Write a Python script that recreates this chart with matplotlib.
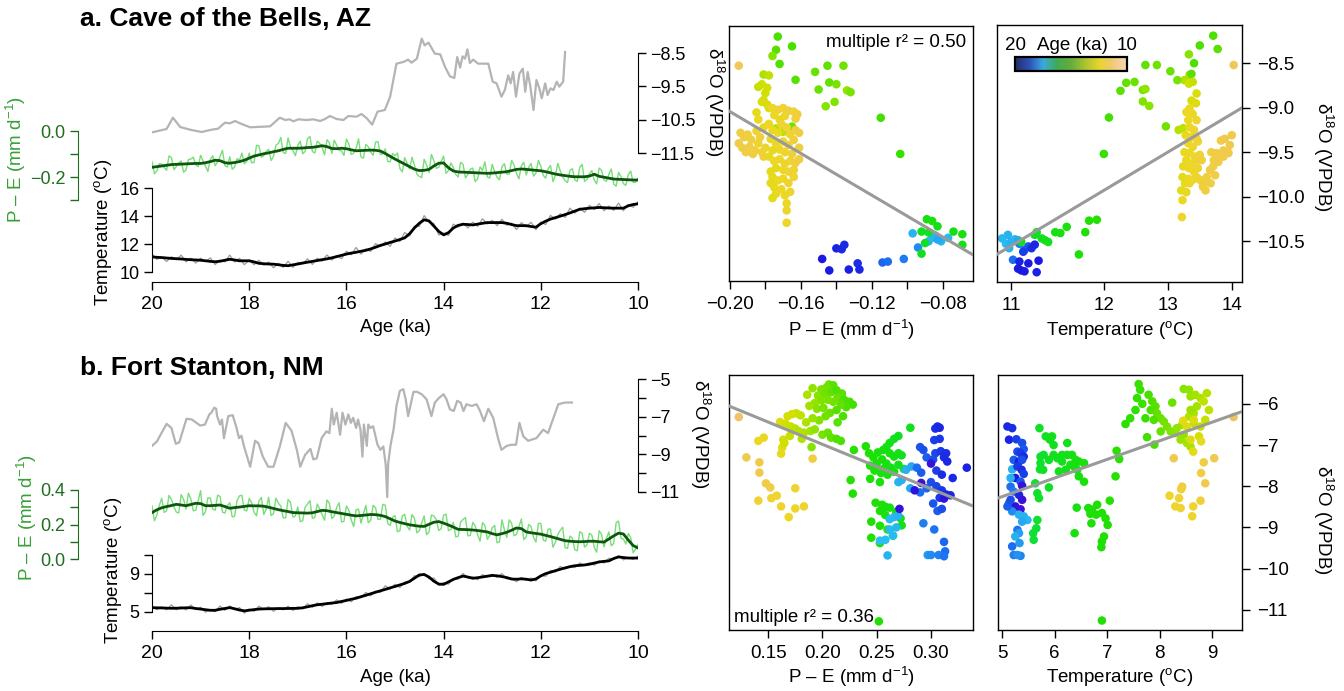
import numpy as np
import matplotlib
matplotlib.use("Agg")
import matplotlib.pyplot as plt
from matplotlib.colors import LinearSegmentedColormap, Normalize
from matplotlib.colorbar import ColorbarBase

plt.rcParams['font.family'] = ['Liberation Sans', 'DejaVu Sans']
plt.rcParams['mathtext.fontset'] = 'custom'
plt.rcParams['mathtext.rm'] = 'Liberation Sans'
plt.rcParams['mathtext.it'] = 'Liberation Sans:italic'
plt.rcParams['mathtext.bf'] = 'Liberation Sans:bold'

# ---------------------------------------------------------------- data
ages = [round(20 - 0.1 * i, 1) for i in range(101)]        # ka, 20 -> 10 (smoothed, temperature)
ages_fine = [round(20 - 0.05 * i, 2) for i in range(201)]  # ka, raw P-E samples
age_ticks = [20, 18, 16, 14, 12, 10]
age_tick_labels = ["20", "18", "16", "14", "12", "10"]

# Cave of the Bells (a) -- P-E in 0.001 mm/d
pe_smooth_a = [-158,-155,-152,-149,-146,-145,-144,-143,-142,-141,
               -141,-138,-133,-127,-129,-138,-140,-137,-133,-127,
               -118,-109,-104,-99,-95,-90,-86,-80,-75,-75,
               -75,-74,-72,-71,-68,-64,-68,-76,-77,-75,
               -77,-82,-86,-85,-84,-83,-84,-87,-98,-110,
               -122,-133,-144,-155,-166,-172,-171,-167,-152,-140,
               -139,-160,-174,-178,-179,-180,-181,-182,-183,-184,
               -183,-181,-179,-177,-172,-167,-165,-167,-169,-171,
               -173,-177,-182,-187,-191,-194,-197,-199,-199,-199,
               -196,-188,-197,-201,-205,-209,-210,-211,-212,-213,
               -213]
pe_raw_a = [-133,-186,-173,-142,-144,-158,-171,-108,-116,-168,-155,-139,-130,-179,-169,-124,-122,-114,-147,-155,
            -106,-130,-153,-176,-123,-108,-151,-134,-111,-84,-150,-157,-112,-166,-157,-120,-127,-96,-143,-132,
            -96,-138,-137,-62,-64,-114,-107,-89,-79,-128,-110,-62,-54,-28,-94,-98,-30,-69,-85,-107,
            -63,-44,-99,-89,-34,-24,-89,-96,-44,-54,-70,-104,-38,-52,-98,-40,-62,-84,-87,-106,
            -35,-56,-102,-96,-76,-34,-113,-118,-58,-68,-91,-106,-48,-46,-103,-98,-78,-132,-134,-98,
            -108,-96,-163,-178,-116,-140,-165,-114,-148,-187,-198,-202,-123,-147,-181,-102,-130,-162,-158,-132,
            -109,-184,-172,-139,-158,-188,-200,-136,-145,-204,-188,-166,-161,-220,-208,-156,-171,-134,-200,-204,
            -145,-176,-201,-212,-155,-142,-187,-188,-128,-148,-185,-208,-151,-136,-191,-158,-141,-196,-183,-128,
            -153,-193,-205,-164,-150,-220,-193,-141,-173,-200,-216,-224,-171,-164,-213,-219,-159,-145,-219,-210,
            -186,-172,-214,-230,-161,-171,-213,-219,-189,-165,-231,-240,-180,-198,-229,-236,-190,-174,-223,-223,
            -205]
t_smooth_a = [11.08,11.05,11.03,11.00,10.97,10.95,10.93,10.90,10.88,10.86,
              10.84,10.80,10.76,10.73,10.77,10.84,10.91,10.86,10.80,10.80,
              10.80,10.72,10.62,10.59,10.57,10.56,10.52,10.47,10.45,10.51,
              10.57,10.64,10.70,10.76,10.82,10.88,10.94,11.01,11.10,11.19,
              11.28,11.35,11.41,11.48,11.55,11.65,11.77,11.90,12.00,12.11,
              12.21,12.32,12.44,12.73,13.15,13.48,13.73,13.65,13.28,12.90,
              12.65,12.81,13.14,13.33,13.41,13.39,13.36,13.42,13.48,13.53,
              13.53,13.53,13.53,13.48,13.39,13.31,13.31,13.31,13.25,13.20,
              13.45,13.63,13.78,13.88,13.99,14.10,14.22,14.35,14.48,14.52,
              14.56,14.58,14.61,14.59,14.57,14.56,14.56,14.56,14.73,14.82,
              14.87]
t_raw_a = [11.28,10.90,11.08,10.75,11.09,10.87,11.21,10.72,10.98,10.64,
           10.99,10.75,11.01,10.53,10.85,10.72,11.21,10.71,10.98,10.52,
           10.86,10.52,10.84,10.49,10.71,10.30,10.61,10.33,10.77,10.33,
           10.69,10.58,10.94,10.54,10.98,10.78,11.22,10.85,11.17,10.95,
           11.48,11.23,11.75,11.28,11.65,11.47,12.03,11.82,12.15,11.83,
           12.43,12.18,12.82,12.57,13.27,13.26,14.03,13.55,13.46,12.64,
           12.79,12.61,13.42,13.21,13.49,13.15,13.56,13.26,13.80,13.43,
           13.69,13.31,13.77,13.34,13.49,13.03,13.53,13.23,13.55,13.02,
           13.57,13.39,14.04,13.78,14.17,13.90,14.56,14.21,14.56,14.26,
           14.76,14.46,14.89,14.37,14.71,14.40,14.92,14.38,14.83,14.62,
           15.02]
d18o_series_a = [(20.0,-10.88),(19.70,-10.78),(19.57,-10.44),(19.42,-10.72),(19.22,-10.80),
    (18.98,-10.87),(18.77,-10.80),(18.64,-10.77),(18.50,-10.59),(18.40,-10.61),(18.29,-10.54),
    (18.19,-10.61),(17.98,-10.73),(17.57,-10.70),(17.37,-10.44),(17.26,-10.51),(17.17,-10.49),
    (17.09,-10.55),(16.99,-10.49),(16.82,-10.51),(16.68,-10.49),(16.54,-10.54),(16.44,-10.48),
    (16.34,-10.39),(16.20,-10.48),(16.06,-10.51),(15.96,-10.39),(15.79,-10.41),(15.69,-10.33),
    (15.58,-10.46),(15.47,-10.65),(15.36,-10.26),(15.21,-10.21),(15.10,-9.81),(14.97,-8.82),
    (14.83,-8.77),(14.73,-8.70),(14.66,-8.79),(14.55,-8.67),(14.45,-8.07),(14.39,-8.27),
    (14.31,-8.19),(14.18,-8.52),(14.07,-8.54),(13.97,-8.92),(13.87,-9.20),(13.78,-9.25),
    (13.72,-8.62),(13.66,-8.94),(13.61,-8.60),(13.56,-8.67),(13.51,-8.39),(13.46,-8.80),
    (13.39,-8.70),(13.29,-8.82),(13.18,-8.82),(13.08,-8.82),(12.99,-9.36),(12.91,-9.41),
    (12.81,-9.81),(12.74,-9.61),(12.67,-9.17),(12.62,-9.41),(12.57,-9.07),(12.51,-9.81),
    (12.44,-9.12),(12.37,-8.97),(12.32,-9.66),(12.27,-9.07),(12.22,-9.46),(12.15,-10.21),
    (12.09,-9.31),(12.03,-9.56),(11.98,-9.86),(11.91,-9.41),(11.86,-9.76),(11.80,-9.56),
    (11.74,-9.61),(11.67,-9.36),(11.62,-9.51),(11.54,-9.36),(11.50,-8.47)]

# Fort Stanton (b)
pe_smooth_b = [269,285,297,304,310,317,313,309,316,323,
               321,309,309,311,313,304,294,298,301,305,
               309,308,308,306,300,293,286,280,275,269,
               268,267,266,268,275,282,280,274,269,264,
               259,254,250,252,255,258,257,253,246,233,
               220,212,205,198,194,190,189,201,213,217,
               208,197,185,172,171,170,168,165,161,157,
               147,140,147,155,167,180,176,157,152,148,
               144,137,130,122,114,106,103,101,100,101,
               103,103,100,98,116,134,150,145,110,78,
               64]
pe_raw_b = [309,222,255,311,352,270,279,369,345,303,272,267,373,346,289,382,346,279,283,337,
            396,253,274,354,354,290,283,370,363,272,266,309,326,244,248,339,366,369,283,279,
            351,326,272,250,336,357,258,289,358,252,263,353,324,307,238,239,345,328,243,250,
            302,217,221,300,318,339,236,241,319,290,258,225,342,323,234,249,299,326,214,219,
            307,284,226,188,286,289,208,261,311,210,224,311,297,229,231,317,312,205,195,242,
            252,158,164,250,259,189,168,258,236,152,164,211,249,141,157,255,249,229,165,176,
            254,260,165,171,213,128,132,215,229,240,134,137,212,192,141,103,211,195,115,136,
            181,195,94,99,227,171,125,227,207,135,142,188,232,112,129,200,188,126,98,206,
            206,110,103,173,174,68,96,142,166,184,66,62,133,120,53,48,158,150,69,82,
            149,139,67,39,164,143,70,119,156,77,90,210,220,121,115,87,148,124,36,57,
            84]
t_smooth_b = [5.46,5.44,5.43,5.41,5.39,5.40,5.42,5.44,5.45,5.37,
              5.31,5.24,5.18,5.18,5.29,5.37,5.46,5.34,5.21,5.12,
              5.19,5.25,5.31,5.33,5.34,5.35,5.36,5.36,5.37,5.38,
              5.39,5.44,5.55,5.66,5.76,5.82,5.88,5.94,6.00,6.11,
              6.22,6.34,6.45,6.61,6.76,6.92,7.08,7.23,7.38,7.54,
              7.69,7.85,8.01,8.22,8.56,8.90,8.95,8.68,8.24,7.94,
              7.91,8.17,8.43,8.62,8.78,8.68,8.55,8.61,8.69,8.77,
              8.85,8.81,8.73,8.62,8.47,8.45,8.49,8.45,8.36,8.48,
              8.80,9.04,9.19,9.35,9.50,9.64,9.77,9.87,9.91,9.95,
              10.03,10.15,10.27,10.33,10.38,10.63,10.80,10.73,10.68,10.68,
              10.68]
t_raw_b = [5.61,5.24,5.53,5.23,5.75,5.24,5.56,5.22,5.73,5.25,
           5.51,4.98,5.26,5.04,5.63,5.17,5.64,5.24,5.47,4.88,
           5.31,5.07,5.61,5.25,5.56,5.07,5.46,5.22,5.61,5.16,
           5.55,5.34,5.87,5.50,5.96,5.58,5.96,5.82,6.28,5.91,
           6.36,6.08,6.63,6.51,7.06,6.70,7.20,7.07,7.76,7.40,
           7.91,7.57,8.16,8.14,8.82,8.72,9.05,8.48,8.58,7.82,
           8.11,7.93,8.50,8.46,9.06,8.58,8.71,8.39,8.93,8.71,
           8.97,8.63,9.05,8.48,8.56,8.19,8.63,8.35,8.58,8.28,
           8.86,8.76,9.37,9.20,9.80,9.52,9.85,9.67,10.16,9.90,
           10.18,9.93,10.37,10.15,10.66,10.55,10.92,10.48,10.73,10.53,
           10.88]
d18o_series_b = [(20.0,-8.55),(19.90,-8.32),(19.70,-7.38),(19.60,-7.60),(19.51,-8.44),(19.44,-8.37),
    (19.29,-7.11),(19.18,-7.15),(19.01,-7.47),(18.91,-7.42),(18.82,-6.88),(18.77,-6.76),(18.72,-6.52),
    (18.68,-6.58),(18.66,-6.97),(18.60,-7.42),(18.56,-7.15),(18.52,-8.14),(18.43,-6.97),(18.34,-6.92),
    (18.26,-7.60),(18.21,-8.14),(18.16,-8.01),(18.11,-8.55),(17.98,-9.66),(17.88,-8.28),(17.81,-8.41),
    (17.72,-9.12),(17.61,-9.66),(17.50,-9.66),(17.37,-8.58),(17.25,-7.33),(17.13,-7.74),(17.02,-8.76),
    (16.95,-9.66),(16.85,-9.03),(16.74,-8.71),(16.68,-9.27),(16.61,-9.21),(16.51,-8.14),(16.41,-7.78),
    (16.35,-7.87),(16.30,-6.58),(16.26,-7.42),(16.20,-6.79),(16.13,-7.96),(16.08,-6.79),(16.02,-7.42),
    (15.96,-6.88),(15.91,-7.33),(15.86,-7.06),(15.80,-7.60),(15.76,-7.15),(15.71,-7.69),(15.67,-9.12),
    (15.64,-7.42),(15.58,-8.55),(15.55,-7.42),(15.51,-7.60),(15.45,-7.51),(15.36,-8.49),(15.30,-8.76),
    (15.24,-8.58),(15.19,-9.57),(15.16,-11.27),(15.14,-9.48),(15.09,-8.49),(15.03,-7.69),(14.97,-6.43),
    (14.90,-5.63),(14.83,-5.54),(14.78,-6.08),(14.73,-6.97),(14.62,-5.68),(14.55,-5.68),(14.45,-5.81),
    (14.35,-6.08),(14.25,-6.97),(14.18,-6.25),(14.09,-5.99),(14.00,-5.81),(13.94,-6.08),(13.87,-6.61),
    (13.79,-6.70),(13.72,-6.16),(13.65,-6.25),(13.59,-6.70),(13.53,-6.34),(13.42,-6.43),(13.32,-6.34),
    (13.25,-6.70),(13.17,-7.24),(13.08,-6.58),(12.98,-7.06),(12.88,-8.14),(12.81,-8.76),(12.70,-8.55),
    (12.60,-8.49),(12.51,-8.49),(12.44,-7.33),(12.36,-8.05),(12.26,-8.28),(12.09,-8.14),(11.95,-7.69),
    (11.85,-7.87),(11.64,-6.34),(11.50,-6.25),(11.36,-6.25)]

# scatter samples: (x, d18O, age ka)
pts_a_pe = [(-0.173,-8.19,14.4),(-0.174,-8.34,14.2),(-0.176,-8.41,13.6),(-0.172,-8.50,14.3),
    (-0.165,-8.30,14.4),(-0.163,-8.68,14.2),(-0.195,-8.52,11.3),
    (-0.152,-8.59,14.0),(-0.145,-8.52,14.1),(-0.136,-8.52,13.9),(-0.150,-8.79,14.0),(-0.144,-8.71,14.1),
    (-0.140,-8.73,13.8),(-0.134,-8.80,13.5),(-0.132,-8.82,13.8),(-0.141,-8.93,13.7),(-0.146,-8.98,13.6),
    (-0.115,-9.11,14.6),(-0.104,-9.52,14.8),
    (-0.181,-8.62,13.2),(-0.178,-8.63,13.0),(-0.182,-8.73,12.8),(-0.184,-8.76,12.9),(-0.179,-8.77,12.7),
    (-0.180,-8.83,12.8),(-0.181,-8.91,12.6),(-0.179,-8.96,12.6),(-0.178,-9.00,12.5),
    (-0.174,-9.23,13.1),(-0.165,-9.21,13.9),(-0.170,-9.27,13.0),
    (-0.194,-9.28,11.7),(-0.192,-9.33,11.8),(-0.195,-9.40,11.7),(-0.193,-9.45,11.8),(-0.190,-9.30,11.9),
    (-0.188,-9.36,11.8),(-0.189,-9.44,11.7),(-0.186,-9.48,11.9),(-0.184,-9.40,12.0),(-0.183,-9.33,11.9),
    (-0.185,-9.26,12.1),(-0.191,-9.50,11.7),(-0.187,-9.52,11.8),(-0.182,-9.50,12.0),(-0.180,-9.45,12.1),
    (-0.181,-9.55,11.9),(-0.184,-9.13,12.2),(-0.181,-9.22,12.3),(-0.185,-9.05,12.4),(-0.182,-8.93,12.6),
    (-0.176,-9.00,12.2),(-0.173,-9.02,11.9),(-0.170,-9.00,12.0),(-0.167,-9.03,11.9),(-0.164,-9.04,12.0),
    (-0.162,-9.07,11.8),(-0.175,-9.08,12.2),(-0.169,-9.09,12.1),(-0.163,-9.12,11.9),(-0.172,-9.13,12.3),
    (-0.178,-9.18,12.2),(-0.171,-9.18,12.1),(-0.168,-9.22,12.0),(-0.163,-9.25,11.9),(-0.161,-9.28,11.8),
    (-0.166,-9.30,12.0),(-0.176,-9.25,12.3),(-0.173,-9.28,12.2),
    (-0.177,-9.35,12.3),(-0.174,-9.40,12.2),(-0.170,-9.38,12.1),(-0.167,-9.42,12.0),(-0.164,-9.36,11.9),
    (-0.161,-9.45,11.8),(-0.172,-9.47,12.2),(-0.169,-9.50,12.1),(-0.176,-9.48,12.3),(-0.165,-9.52,11.9),
    (-0.178,-9.55,12.3),(-0.175,-9.60,12.2),(-0.172,-9.58,12.2),(-0.169,-9.63,12.1),(-0.166,-9.60,12.0),
    (-0.163,-9.62,11.9),(-0.161,-9.58,11.8),(-0.174,-9.68,12.3),(-0.170,-9.70,12.2),(-0.167,-9.72,12.1),
    (-0.177,-9.72,12.4),(-0.164,-9.70,12.0),
    (-0.176,-9.78,12.3),(-0.173,-9.82,12.2),(-0.170,-9.80,12.2),(-0.167,-9.85,12.1),(-0.164,-9.78,12.0),
    (-0.175,-9.90,12.3),(-0.171,-9.92,12.2),(-0.166,-9.95,12.1),(-0.177,-9.85,12.4),
    (-0.174,-9.97,12.3),(-0.169,-9.99,12.2),(-0.176,-10.02,12.4),(-0.168,-10.08,12.2),(-0.168,-10.16,12.1),
    (-0.168,-10.30,12.1),
    (-0.148,-10.71,19.6),(-0.144,-10.84,19.5),(-0.140,-10.59,19.3),(-0.137,-10.60,19.2),(-0.1355,-10.55,19.1),
    (-0.133,-10.83,19.4),(-0.128,-10.76,19.0),(-0.127,-10.83,19.2),
    (-0.114,-10.75,18.3),(-0.111,-10.74,18.2),(-0.102,-10.71,18.0),(-0.094,-10.58,17.8),
    (-0.097,-10.42,17.2),(-0.088,-10.51,17.3),(-0.086,-10.47,17.1),(-0.081,-10.51,17.2),(-0.077,-10.47,17.0),
    (-0.084,-10.45,17.1),(-0.083,-10.49,17.4),
    (-0.089,-10.26,15.6),(-0.086,-10.28,15.5),(-0.083,-10.34,15.8),(-0.092,-10.40,16.0),(-0.088,-10.41,15.9),
    (-0.074,-10.40,15.7),(-0.069,-10.43,15.6),(-0.069,-10.55,15.8),(-0.092,-10.65,16.0),(-0.090,-10.53,16.1)]

pts_a_t = [(14.03,-8.52,11.3),
    (13.71,-8.19,14.4),(13.78,-8.34,14.2),(13.50,-8.30,14.4),(13.33,-8.40,13.6),(13.41,-8.50,14.3),
    (13.34,-8.63,13.3),(13.26,-8.69,13.1),(13.37,-8.62,14.2),
    (12.65,-8.52,14.1),(12.83,-8.52,13.9),(13.04,-8.59,14.0),(13.15,-8.69,13.8),(12.35,-8.72,14.1),
    (12.48,-8.71,14.0),(12.26,-8.81,14.2),(12.61,-8.80,13.8),(12.65,-8.79,13.5),(12.61,-8.93,13.7),
    (12.71,-8.98,13.6),(12.08,-9.11,14.6),(12.00,-9.52,14.8),(12.97,-9.21,13.9),(13.17,-9.25,13.1),
    (13.24,-9.23,13.0),
    (13.33,-8.73,12.8),(13.39,-8.71,12.9),(13.45,-8.84,12.6),(13.37,-8.92,12.6),(13.44,-8.95,12.5),
    (13.34,-9.01,12.3),(13.29,-9.05,12.2),(13.39,-9.07,12.2),(13.32,-9.14,12.2),(13.45,-9.14,12.1),
    (13.34,-9.22,12.2),(13.41,-9.25,12.1),(13.28,-9.31,12.3),(13.37,-9.33,12.2),(13.45,-9.35,12.0),
    (13.32,-9.40,12.2),(13.39,-9.44,12.1),(13.47,-9.38,12.0),(13.26,-9.50,12.3),(13.34,-9.51,12.2),
    (13.42,-9.55,12.1),(13.29,-9.59,12.3),(13.37,-9.63,12.2),(13.45,-9.59,12.0),(13.24,-9.66,12.3),
    (13.33,-9.68,12.2),(13.41,-9.72,12.1),(13.47,-9.68,12.0),(13.23,-9.78,12.4),(13.32,-9.80,12.3),
    (13.39,-9.81,12.2),(13.27,-9.85,12.3),(13.34,-9.85,12.2),(13.45,-9.78,12.1),(13.50,-9.81,12.0),
    (13.55,-9.85,11.9),(13.21,-9.93,12.4),(13.29,-9.95,12.3),(13.23,-10.04,12.2),(13.22,-10.23,12.1),
    (13.50,-9.53,12.0),(13.53,-9.59,11.9),
    (13.83,-9.37,11.7),(13.89,-9.35,11.6),(14.00,-9.31,11.6),(13.97,-9.42,11.6),(13.87,-9.48,11.7),
    (13.93,-9.50,11.6),(13.68,-9.50,11.8),(13.76,-9.51,11.7),(13.82,-9.55,11.7),(13.72,-9.59,11.8),
    (13.79,-9.61,11.7),(13.66,-9.70,11.8),(13.74,-9.76,11.7),(13.61,-9.78,11.8),(13.67,-9.85,11.8),
    (13.55,-9.89,11.9),(13.59,-9.93,11.8),(13.87,-9.55,11.7),(13.95,-9.51,11.6),(13.71,-9.66,11.7),
    (10.41,-10.47,17.1),(10.50,-10.43,17.2),(10.47,-10.53,17.0),(10.55,-10.51,17.3),(10.61,-10.48,17.1),
    (10.52,-10.58,17.2),(10.66,-10.49,17.4),
    (10.68,-10.53,18.0),(10.76,-10.60,18.3),(10.82,-10.56,18.5),(10.87,-10.58,19.0),(10.92,-10.54,19.2),
    (10.74,-10.62,18.8),(10.58,-10.71,18.2),(10.68,-10.73,19.3),(10.82,-10.75,19.5),(10.98,-10.72,19.6),
    (10.71,-10.83,19.4),(10.76,-10.84,19.5),(10.95,-10.85,19.3),(10.66,-10.81,19.6),
    (10.71,-10.51,16.1),(10.92,-10.43,16.0),(11.03,-10.47,15.9),(11.13,-10.51,15.8),(11.24,-10.40,15.7),
    (11.32,-10.41,15.6),(11.42,-10.34,15.5),(11.71,-10.40,15.3),(11.77,-10.27,15.2),(11.89,-10.26,15.1),
    (11.61,-10.65,15.4),(11.08,-10.49,15.9),(10.95,-10.40,16.0)]

pts_b_pe = [(0.123,-6.32,11.0),
    (0.130,-7.30,11.5),(0.141,-6.90,12.2),(0.146,-6.82,12.3),(0.142,-7.42,11.6),(0.142,-7.67,11.6),
    (0.148,-7.93,11.7),(0.152,-8.03,11.7),(0.141,-8.35,12.0),(0.153,-8.29,12.0),(0.158,-8.23,12.1),
    (0.162,-8.49,12.0),(0.169,-8.75,12.2),(0.175,-8.05,12.1),(0.175,-8.54,12.2),(0.183,-8.49,12.1),
    (0.191,-7.33,11.8),(0.162,-7.21,12.3),(0.163,-7.06,12.4),(0.161,-6.44,12.5),(0.164,-6.87,12.6),
    (0.186,-5.78,13.2),(0.191,-5.62,13.5),(0.199,-5.65,13.8),(0.206,-5.53,14.0),(0.210,-5.55,14.2),
    (0.204,-5.60,13.9),(0.196,-5.80,13.6),(0.202,-5.75,13.9),(0.208,-5.72,14.1),(0.213,-5.67,14.3),
    (0.218,-5.75,14.2),(0.214,-5.85,14.0),(0.220,-5.90,14.4),(0.225,-5.95,14.5),(0.228,-6.02,14.6),
    (0.222,-6.08,14.3),(0.217,-6.02,14.1),(0.210,-5.95,13.9),(0.205,-5.90,13.8),(0.199,-5.92,13.7),
    (0.193,-5.98,13.5),(0.188,-6.05,13.3),(0.195,-6.12,13.6),(0.201,-6.10,13.8),(0.207,-6.22,14.0),
    (0.213,-6.15,14.2),(0.219,-6.30,14.4),(0.203,-6.30,13.9),(0.197,-6.40,13.7),(0.191,-6.35,13.4),
    (0.185,-6.45,13.2),(0.180,-6.28,13.0),(0.176,-6.23,12.9),(0.172,-6.25,12.8),(0.168,-6.30,12.7),
    (0.166,-6.48,12.8),(0.171,-6.55,12.9),(0.175,-6.60,13.0),(0.178,-6.66,13.1),(0.183,-6.70,13.2),
    (0.189,-6.66,13.3),(0.193,-6.62,13.5),(0.200,-6.75,13.8),(0.205,-6.70,14.0),(0.208,-6.82,14.1),
    (0.213,-6.85,14.3),(0.217,-6.90,14.4),(0.190,-7.05,13.6),(0.170,-6.78,12.9),(0.165,-6.95,12.8),
    (0.181,-6.85,13.1),(0.214,-6.45,14.2),
    (0.229,-7.12,15.0),(0.240,-7.03,15.2),(0.243,-7.20,15.3),(0.247,-7.30,15.4),(0.251,-7.18,15.5),
    (0.256,-7.12,15.6),(0.259,-7.05,15.7),(0.262,-6.95,15.8),(0.266,-6.85,15.9),(0.270,-6.78,16.0),
    (0.262,-7.20,15.6),(0.266,-7.28,15.7),(0.270,-7.20,15.8),(0.273,-7.25,15.9),(0.255,-7.35,15.5),
    (0.250,-7.45,15.4),(0.244,-7.50,15.3),(0.259,-7.45,15.6),(0.263,-7.55,15.7),(0.270,-7.48,15.8),
    (0.248,-7.62,15.4),(0.254,-7.68,15.5),(0.260,-7.72,15.6),(0.266,-7.65,15.7),(0.275,-7.58,16.0),
    (0.244,-7.82,15.3),(0.253,-7.90,15.5),(0.226,-7.85,15.1),(0.228,-8.18,15.2),(0.281,-6.58,15.9),
    (0.256,-7.58,15.5),
    (0.249,-8.40,15.3),(0.255,-8.45,15.4),(0.258,-8.50,15.5),(0.262,-8.52,15.6),(0.253,-8.60,15.4),
    (0.258,-8.70,15.5),(0.268,-8.62,15.6),(0.245,-8.86,15.3),(0.253,-8.96,15.4),(0.245,-9.25,15.2),
    (0.253,-9.38,15.3),(0.272,-8.78,15.7),(0.273,-8.95,15.8),(0.265,-9.20,15.6),(0.260,-9.05,15.5),
    (0.252,-11.28,15.2),
    (0.262,-8.80,17.0),(0.266,-8.75,17.1),(0.270,-8.72,17.2),(0.262,-9.05,17.0),(0.268,-9.00,17.1),
    (0.258,-9.30,16.9),(0.265,-9.20,17.0),(0.260,-9.68,17.2),(0.253,-9.32,16.9),(0.277,-7.60,17.3),
    (0.282,-7.52,17.4),(0.270,-7.90,17.2),(0.273,-7.85,17.3),(0.281,-8.05,17.4),
    (0.304,-6.60,19.0),(0.306,-6.55,19.1),(0.308,-6.58,19.2),(0.303,-6.88,18.8),(0.308,-6.85,18.9),
    (0.290,-7.05,18.5),(0.293,-7.12,18.6),(0.296,-7.30,18.4),(0.304,-7.20,18.7),(0.309,-7.15,18.9),
    (0.314,-7.20,19.0),(0.302,-7.35,18.6),(0.312,-7.30,19.1),(0.315,-7.40,19.2),(0.333,-7.55,19.3),
    (0.287,-7.55,18.2),(0.291,-7.67,18.4),(0.305,-7.62,18.8),(0.310,-7.72,19.0),(0.320,-7.80,19.2),
    (0.300,-7.90,18.6),(0.305,-8.00,18.7),(0.296,-8.05,18.3),(0.290,-8.15,18.2),(0.310,-8.10,18.9),
    (0.314,-8.20,19.1),(0.318,-8.22,19.2),(0.308,-8.28,18.9),(0.302,-8.42,18.5),(0.306,-8.60,18.4),
    (0.310,-8.55,18.6),(0.293,-8.90,18.0),(0.303,-9.05,18.1),(0.312,-9.35,18.3),(0.313,-9.58,18.2),
    (0.297,-9.67,17.6),(0.300,-9.67,17.8),(0.307,-9.67,17.9),(0.312,-9.70,18.1),
    (0.300,-7.45,19.9),(0.291,-7.92,20.0),(0.285,-8.10,19.8),(0.271,-8.55,19.9),(0.312,-8.30,19.8)]

pts_b_t = [(5.10,-6.55,19.2),(5.19,-6.59,19.0),(5.13,-6.87,19.3),(5.27,-6.86,18.8),(5.38,-6.95,18.6),
    (5.41,-7.10,18.5),(5.29,-7.16,18.7),(5.35,-7.20,18.9),(5.41,-7.28,19.1),(5.22,-7.36,18.4),
    (5.32,-7.40,19.4),(5.38,-7.36,18.6),(5.19,-7.59,17.2),(5.29,-7.52,18.9),(5.37,-7.60,19.0),
    (5.41,-7.70,18.8),(5.25,-7.80,19.5),(5.35,-7.89,18.5),(5.16,-8.01,18.2),(5.38,-7.99,19.9),
    (5.22,-8.13,18.0),(5.32,-8.21,19.2),(5.38,-8.33,19.9),(5.13,-8.41,18.3),(5.25,-8.49,19.8),
    (5.35,-8.56,20.0),(5.19,-8.61,17.8),(5.32,-8.69,17.3),(5.41,-8.73,17.2),(5.48,-8.82,17.1),
    (5.38,-8.86,17.4),(5.29,-9.06,18.1),(5.32,-9.14,17.5),(5.25,-9.22,17.3),(5.33,-9.38,17.6),
    (5.19,-9.46,18.2),(5.22,-9.67,18.0),(5.35,-9.69,17.9),(5.29,-9.67,17.7),(5.10,-8.49,18.4),
    (5.16,-8.33,18.6),(5.16,-7.80,17.3),
    (5.71,-6.59,16.2),(5.83,-6.79,16.0),(5.95,-6.79,15.9),(5.91,-6.87,16.0),(5.98,-7.00,15.9),
    (5.79,-7.24,16.3),(5.73,-7.28,16.4),(5.89,-7.36,16.1),(5.98,-7.24,16.0),(6.05,-7.32,15.9),
    (6.14,-7.24,15.8),(6.24,-7.24,15.8),(6.33,-7.24,15.7),(6.24,-6.95,15.8),(6.14,-7.40,15.9),
    (6.30,-7.48,15.7),(6.40,-7.36,15.6),(6.46,-7.40,15.6),(6.56,-7.44,15.5),(6.08,-7.64,15.9),
    (6.21,-7.60,15.8),(6.43,-7.60,15.6),(6.46,-7.76,15.6),(6.56,-7.89,15.5),(5.72,-7.59,16.3),
    (5.78,-7.60,16.2),(5.73,-7.44,16.3),(5.63,-7.93,16.4),(5.89,-8.03,16.1),(5.67,-8.17,16.4),
    (5.70,-8.29,16.3),(6.42,-8.52,15.6),(6.37,-7.52,15.7),
    (5.67,-8.82,16.4),(5.65,-9.02,16.5),(5.59,-9.14,16.5),(5.60,-9.30,16.5),
    (6.64,-8.53,15.5),(6.71,-8.57,15.4),(6.81,-8.45,15.3),(6.68,-8.67,15.4),(6.79,-8.69,15.3),
    (6.90,-8.65,15.3),(6.97,-8.78,15.2),(7.01,-8.94,15.2),(6.70,-8.90,15.4),(7.05,-8.35,15.1),
    (6.94,-9.22,15.2),(6.90,-9.34,15.3),(6.89,-9.48,15.3),(6.38,-9.14,15.6),(6.90,-11.26,15.2),
    (7.18,-7.14,15.1),(7.23,-7.34,15.0),(7.16,-7.76,15.1),(7.35,-6.49,15.0),(7.44,-6.35,14.9),
    (7.60,-5.52,14.8),(7.63,-5.66,14.8),(7.57,-5.86,14.9),(7.54,-6.15,14.9),(7.67,-6.00,14.7),
    (7.73,-6.35,14.7),(7.76,-6.81,14.6),(7.79,-5.78,14.5),(7.86,-5.94,14.3),(7.92,-6.06,14.2),
    (7.83,-6.15,14.4),(7.95,-6.23,14.1),(8.02,-6.35,14.0),(7.89,-6.39,14.3),(8.08,-6.43,13.9),
    (8.14,-6.55,13.8),(8.02,-6.67,14.0),(8.24,-5.97,14.0),(7.90,-6.99,14.5),(8.21,-6.67,13.7),
    (8.30,-6.71,13.6),(8.40,-6.87,13.4),(8.46,-6.75,13.5),(8.52,-6.95,13.3),(8.59,-7.04,13.2),
    (8.46,-5.64,13.6),(8.56,-5.66,13.5),(8.59,-5.82,13.4),(8.68,-5.78,13.3),(8.78,-5.86,13.2),
    (8.90,-5.74,13.1),(8.84,-5.94,13.0),(8.94,-6.15,13.0),(8.87,-6.39,12.9),(8.78,-6.55,12.9),
    (8.75,-6.79,12.8),(8.65,-6.47,13.0),(8.56,-6.31,13.1),(8.65,-6.23,13.2),(8.71,-6.06,13.3),
    (8.59,-6.15,13.4),(8.43,-6.51,13.3),(8.33,-6.59,13.5),
    (8.45,-6.41,12.4),(8.65,-6.39,12.5),(8.52,-6.55,12.5),(8.59,-6.87,12.6),(8.64,-7.16,12.4),
    (8.79,-6.91,12.3),(8.27,-7.32,11.6),(8.84,-7.42,11.8),(9.04,-7.32,11.5),(8.79,-7.68,11.7),
    (8.87,-7.93,11.6),(8.43,-8.01,11.7),(8.41,-8.07,11.9),(8.19,-8.23,12.1),(8.37,-8.29,12.0),
    (8.30,-8.49,12.1),(8.40,-8.53,12.0),(8.64,-8.49,12.0),(8.62,-8.73,12.1),(8.78,-8.35,11.9),
    (9.41,-6.32,11.0)]

# regression lines: (slope, intercept)
fit_a_pe = (-11.85, -11.41)
fit_a_t = (0.430, -15.09)
fit_b_pe = (-10.81, -4.82)
fit_b_t = (0.4516, -10.51)
r2_a = "multiple r\u00b2 = 0.50"
r2_b = "multiple r\u00b2 = 0.36"

# axis ticks
a_T_ticks, a_T_labels = [10, 12, 14, 16], ["10", "12", "14", "16"]
a_PE_ticks, a_PE_labels = [-0.3, -0.2, -0.1, 0.0], ["", "\u22120.2", "", "0.0"]
a_D_ticks = [-11.5, -10.5, -9.5, -8.5]
a_D_labels = ["\u221211.5", "\u221210.5", "\u22129.5", "\u22128.5"]
b_T_ticks, b_T_labels = [5, 7, 9, 11], ["5", "", "9", ""]
b_PE_ticks, b_PE_labels = [0.0, 0.1, 0.2, 0.3, 0.4], ["0.0", "", "0.2", "", "0.4"]
b_D_ticks = [-11, -10, -9, -8, -7, -6, -5]
b_D_labels = ["\u221211", "", "\u22129", "", "\u22127", "", "\u22125"]
sa_pe_ticks = [-0.20, -0.18, -0.16, -0.14, -0.12, -0.10, -0.08]
sa_pe_labels = ["\u22120.20", "", "\u22120.16", "", "\u22120.12", "", "\u22120.08"]
sa_t_ticks, sa_t_labels = [10.55, 12, 13, 14], ["11", "12", "13", "14"]
sa_y_ticks = [-8.5, -9.0, -9.5, -10.0, -10.5]
sa_y_labels = ["\u22128.5", "\u22129.0", "\u22129.5", "\u221210.0", "\u221210.5"]
sb_pe_ticks, sb_pe_labels = [0.15, 0.20, 0.25, 0.30], ["0.15", "0.20", "0.25", "0.30"]
sb_t_ticks, sb_t_labels = [5, 6, 7, 8, 9], ["5", "6", "7", "8", "9"]
sb_y_ticks = [-6, -7, -8, -9, -10, -11]
sb_y_labels = ["\u22126", "\u22127", "\u22128", "\u22129", "\u221210", "\u221211"]

age_nodes = [10.0, 11.0, 11.7, 12.2, 12.8, 13.5, 14.3, 15.2, 16.0, 16.5, 16.8, 17.3, 18.2, 19.0, 19.6, 20.0]
age_colors = ["#f3cc8c", "#f0c464", "#f0cc48", "#ecd824", "#cfe000", "#90e400", "#50e000",
              "#20e000", "#10e020", "#10e030", "#28c4f0", "#28b0f0", "#1c6ef0", "#1a30e4",
              "#1a18e0", "#4010d8"]
cbar_colors = ["#f4d9b5", "#eecb76", "#e6d42b", "#a7c431", "#65ad3c", "#3faa50",
               "#39a9df", "#2d4fb0", "#262d6b"]   # 10 ka -> 20 ka

# ---------------------------------------------------------------- figure
W, H = 1344, 691
fig = plt.figure(figsize=(W / 100, H / 100), dpi=100)

age_cmap = LinearSegmentedColormap.from_list(
    "age", [((a - 10.0) / 10.0, c) for a, c in zip(age_nodes, age_colors)])
age_norm = Normalize(10, 20)

GREEN_AX = "#1f6e1f"
GREEN_LAB = "#36a036"


def rect(l, t, r, b):
    return [l / W, 1 - b / H, (r - l) / W, (b - t) / H]


def ftext(x, y, s, **kw):
    fig.text(x / W, 1 - y / H, s, **kw)


def lims(ref, top, bot):
    (v1, p1), (v2, p2) = ref
    k = (p2 - p1) / (v2 - v1)
    return v1 + (bot - p1) / k, v1 + (top - p1) / k


def overlay(r, tag, ylim):
    a = fig.add_axes(r, label=tag)
    a.set_xlim(20, 10)
    a.set_ylim(*ylim)
    a.patch.set_visible(False)
    a.xaxis.set_visible(False)
    for s in a.spines.values():
        s.set_visible(False)
    return a


def time_panel(tag, lay, d18o, pe_raw, pe_s, t_raw, t_s, T_t, T_l, P_t, P_l, D_t, D_l):
    L, R = 152, 638
    top, bot = lay["top"], lay["bot"]
    r = rect(L, top, R, bot)
    ax = fig.add_axes(r, label=tag + "x")
    ax.set_xlim(20, 10)
    ax.set_ylim(0, 1)
    ax.patch.set_visible(False)
    for s in ("left", "right", "top"):
        ax.spines[s].set_visible(False)
    ax.spines["bottom"].set_bounds(20, 10)
    ax.set_xticks(age_ticks)
    ax.set_xticklabels(age_tick_labels)
    ax.set_yticks([])
    ax.tick_params(axis="x", direction="out", length=6, width=1, labelsize=14, pad=4)

    # d18O (right)
    axD = overlay(r, tag + "D", lims(lay["D_ref"], top, bot))
    axD.spines["right"].set_visible(True)
    axD.spines["right"].set_bounds(min(D_t), max(D_t))
    axD.yaxis.tick_right()
    axD.set_yticks(D_t)
    axD.set_yticklabels(D_l)
    axD.tick_params(axis="y", direction="out", length=6, width=1, labelsize=13, pad=3)
    da, dv = zip(*d18o)
    axD.plot(da, dv, color="#b4b4b4", lw=1.6, zorder=2)

    # P-E (far left, green)
    axP = overlay(r, tag + "P", lims(lay["P_ref"], top, bot))
    sp = axP.spines["left"]
    sp.set_visible(True)
    sp.set_position(("axes", (78 - L) / (R - L)))
    sp.set_bounds(min(P_t), max(P_t))
    sp.set_color(GREEN_AX)
    axP.set_yticks(P_t)
    axP.set_yticklabels(P_l)
    axP.tick_params(axis="y", direction="out", length=6, width=1, labelsize=13,
                    pad=3, colors=GREEN_AX)
    pr = np.array(pe_raw) / 1000.0
    ps = np.array(pe_s) / 1000.0
    axP.plot(ages_fine, pr, color="#78de78", lw=1.0, zorder=2)
    axP.plot(ages, ps, color="#0c570c", lw=2.0, zorder=3)

    # Temperature (left)
    axT = overlay(r, tag + "T", lims(lay["T_ref"], top, bot))
    axT.spines["left"].set_visible(True)
    axT.spines["left"].set_bounds(min(T_t), max(T_t))
    axT.set_yticks(T_t)
    axT.set_yticklabels(T_l)
    axT.tick_params(axis="y", direction="out", length=6, width=1, labelsize=13, pad=3)
    axT.plot(ages, t_raw, color="#9c9c9c", lw=0.9, zorder=2)
    axT.plot(ages, t_s, color="black", lw=2.0, zorder=3)

    ftext(lay["title"][0], lay["title"][1], lay["title_text"], fontsize=19,
          fontweight="bold", ha="left", va="baseline")
    ftext(395, lay["age_lab"], "Age (ka)", fontsize=13.5, ha="center", va="center")
    ftext(lay["T_lab"][0], lay["T_lab"][1], r"Temperature ($^{\rm o}$C)", fontsize=13.5,
          rotation=90, ha="center", va="center")
    ftext(lay["P_lab"][0], lay["P_lab"][1], r"P – E (mm d$^{-1}$)", fontsize=13.5,
          rotation=90, ha="center", va="center", color=GREEN_LAB)
    ftext(lay["D_lab"][0], lay["D_lab"][1], r"δ$^{18}$O (VPDB)", fontsize=13.5,
          rotation=-90, ha="center", va="center")


time_panel("a", dict(top=30, bot=282, T_ref=((16, 188), (10, 272)),
                     P_ref=((0.0, 131), (-0.2, 177)), D_ref=((-8.5, 53), (-11.5, 153)),
                     title=(80, 26), title_text="a. Cave of the Bells, AZ", age_lab=328,
                     T_lab=(103, 232), P_lab=(16, 160), D_lab=(714, 102)),
           d18o_series_a, pe_raw_a, pe_smooth_a, t_raw_a, t_smooth_a,
           a_T_ticks, a_T_labels, a_PE_ticks, a_PE_labels, a_D_ticks, a_D_labels)

time_panel("b", dict(top=360, bot=631, T_ref=((11, 555), (5, 612)),
                     P_ref=((0.4, 490), (0.0, 559)), D_ref=((-5, 379), (-11, 492)),
                     title=(80, 375), title_text="b. Fort Stanton, NM", age_lab=678,
                     T_lab=(113, 570), P_lab=(27, 518), D_lab=(700, 434)),
           d18o_series_b, pe_raw_b, pe_smooth_b, t_raw_b, t_smooth_b,
           b_T_ticks, b_T_labels, b_PE_ticks, b_PE_labels, b_D_ticks, b_D_labels)


def scatter_panel(tag, box, pts, xlim, ylim, xt, xtl, fit, yt=None, ytl=None):
    ax = fig.add_axes(rect(*box), label=tag)
    xs, ys, cs = zip(*pts)
    ax.scatter(xs, ys, c=cs, cmap=age_cmap, norm=age_norm, s=38, linewidths=0, zorder=2)
    ax.axline((0, fit[1]), slope=fit[0], color="#9a9a9a", lw=2.2, zorder=3)
    ax.set_xlim(*xlim)
    ax.set_ylim(*ylim)
    ax.set_xticks(xt)
    ax.set_xticklabels(xtl)
    if yt is not None:
        ax.yaxis.tick_right()
        ax.set_yticks(yt)
        ax.set_yticklabels(ytl)
    else:
        ax.set_yticks([])
    ax.tick_params(direction="out", length=6, width=1, labelsize=13.5, pad=5)
    for s in ax.spines.values():
        s.set_linewidth(1.0)
    return ax


axa1 = scatter_panel("sa1", (729, 26, 973, 281), pts_a_pe, (-0.2005, -0.063), (-10.96, -8.07),
                     sa_pe_ticks, sa_pe_labels, fit_a_pe)
axa1.text(0.97, 0.935, r2_a, transform=axa1.transAxes, ha="right", va="center", fontsize=13.5)
axa2 = scatter_panel("sa2", (997, 25, 1242, 282), pts_a_t, (10.33, 14.16), (-10.96, -8.07),
                     sa_t_ticks, sa_t_labels, fit_a_t, sa_y_ticks, sa_y_labels)
axb1 = scatter_panel("sb1", (729, 375, 973, 630), pts_b_pe, (0.114, 0.3387), (-11.49, -5.30),
                     sb_pe_ticks, sb_pe_labels, fit_b_pe)
axb1.text(0.02, 0.05, r2_b, transform=axb1.transAxes, ha="left", va="center", fontsize=13.5)
axb2 = scatter_panel("sb2", (998, 375, 1242, 630), pts_b_t, (4.92, 9.57), (-11.49, -5.30),
                     sb_t_ticks, sb_t_labels, fit_b_t, sb_y_ticks, sb_y_labels)

for xc, yc, s in [(851, 330, r"P – E (mm d$^{-1}$)"), (1120, 330, r"Temperature ($^{\rm o}$C)"),
                  (851, 677, r"P – E (mm d$^{-1}$)"), (1120, 677, r"Temperature ($^{\rm o}$C)")]:
    ftext(xc, yc, s, fontsize=13.5, ha="center", va="center")
for yc in (157, 520):
    ftext(1323, yc, r"δ$^{18}$O (VPDB)", fontsize=13.5, rotation=-90, ha="center", va="center")

# colour bar (20 ka on the left)
cax = fig.add_axes(rect(1015, 57, 1127, 71), label="cbar")
cb = ColorbarBase(cax, cmap=LinearSegmentedColormap.from_list("cb", cbar_colors),
                  norm=age_norm, orientation="horizontal")
cax.invert_xaxis()
cax.set_xticks([])
cb.outline.set_linewidth(1.6)
ftext(1015, 45, "20", fontsize=13.5, ha="center", va="center")
ftext(1072, 45, "Age (ka)", fontsize=13.5, ha="center", va="center")
ftext(1127, 45, "10", fontsize=13.5, ha="center", va="center")

fig.savefig("out.png", dpi=100)
